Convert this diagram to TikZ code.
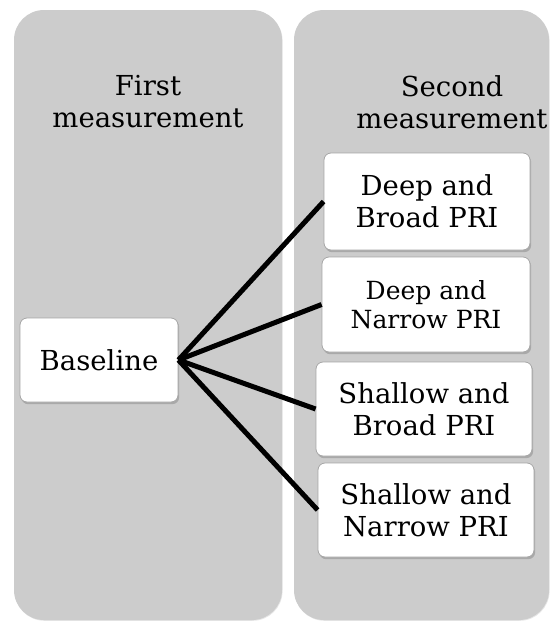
\documentclass[tikz,border=0pt]{standalone}
\usepackage{fontspec}
\setmainfont{DejaVu Serif}
\usetikzlibrary{shadows}
\begin{document}
\begin{tikzpicture}[x=1pt, y=-1pt,
    panel/.style={fill=gray!40, rounded corners=30pt,
        drop shadow={shadow xshift=.6pt, shadow yshift=-.8pt, opacity=.2}},
    card/.style={draw=gray!70, fill=white, rounded corners=7pt, line width=.8pt,
        align=center, inner sep=0pt, font=\fontsize{27.5}{32}\selectfont,
        drop shadow={shadow xshift=1.2pt, shadow yshift=-2.2pt, opacity=.45}},
    title/.style={align=center, font=\fontsize{27.5}{32}\selectfont}]
\useasboundingbox (0,0) rectangle (551,622);
% the two columns
\fill[panel] (14,10) rectangle (282,620);
\fill[panel] (294,10) rectangle (549,620);
\node[title] (first) at (148,102) {First\\measurement};
\node[title] (second) at (452,102) {Second\\measurement};
% the boxes
\node[card, minimum width=158pt, minimum height=84pt] (base) at (99,360) {Baseline};
\node[card, minimum width=206pt, minimum height=97pt] (db) at (427,201.5) {Deep and\\Broad PRI};
\node[card, minimum width=208pt, minimum height=95pt, font=\fontsize{25}{29}\selectfont] (dn) at (426,304.5) {Deep and\\Narrow PRI};
\node[card, minimum width=216pt, minimum height=94pt] (sb) at (424,409) {Shallow and\\Broad PRI};
\node[card, minimum width=216pt, minimum height=94pt] (sn) at (426,510) {Shallow and\\Narrow PRI};
\foreach \b in {db,dn,sb,sn}
{
    \draw[line width=5pt](base.east)--(\b.west);
}
\end{tikzpicture}
\end{document}
